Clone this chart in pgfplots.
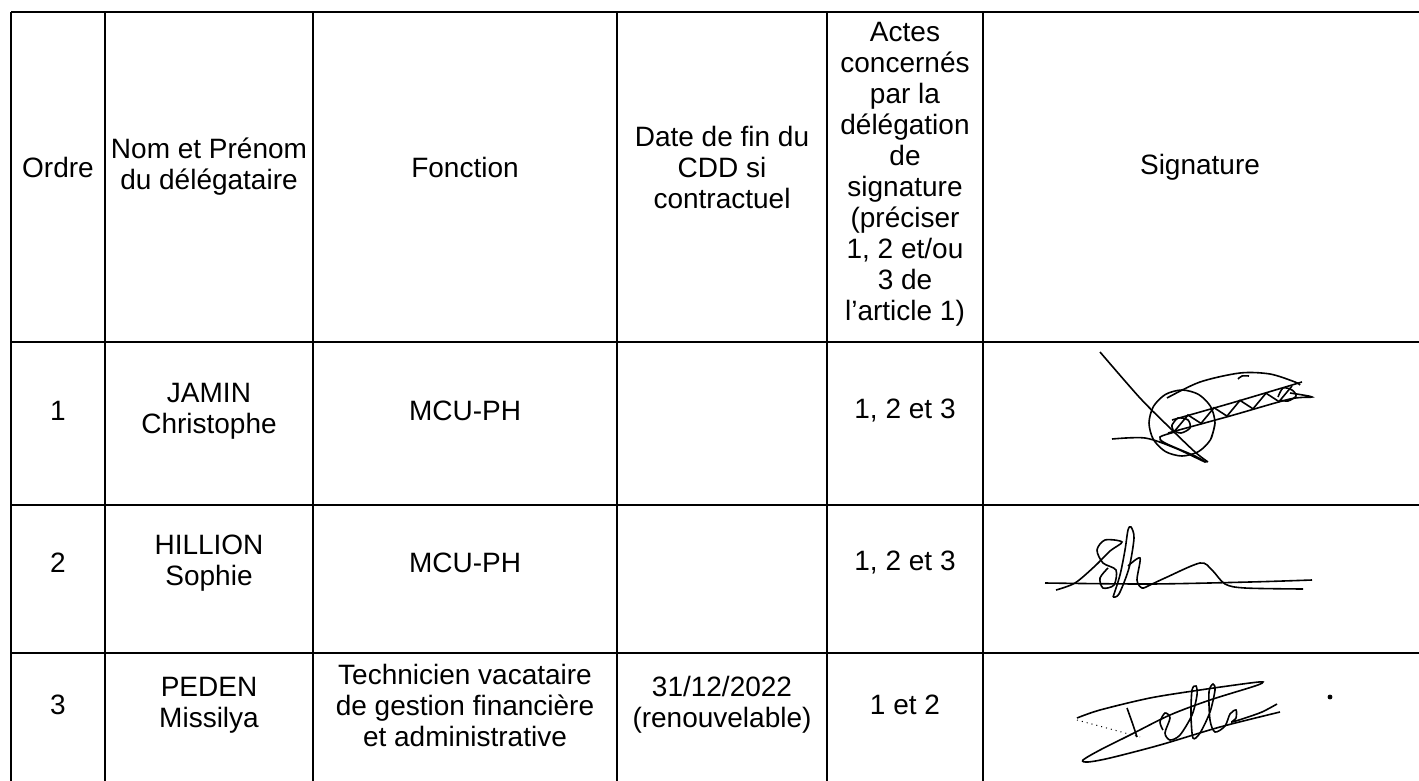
\documentclass[border=0pt]{standalone}
\usepackage{fontspec}
\setmainfont{Liberation Sans}
\usepackage{pgfplots}
\pgfplotsset{compat=1.18}

\begin{document}
\begin{tikzpicture}[cell/.style={font=\fontsize{14}{15.5}\selectfont, align=center, inner sep=0pt}]
\begin{axis}[
    scale only axis,
    width=709.5pt, height=390.5pt,
    xmin=0, xmax=1419, ymin=0, ymax=781,
    y dir=reverse,
    axis lines=none,
    clip=true,
    rule/.style={black, line width=1pt, forget plot},
    sig/.style={black, line width=0.8pt, smooth, tension=0.5, forget plot},
]

% table rules
\addplot[rule] coordinates {(11,12) (1419,12)};
\addplot[rule] coordinates {(11,342) (1419,342)};
\addplot[rule] coordinates {(11,505) (1419,505)};
\addplot[rule] coordinates {(11,653) (1419,653)};
\addplot[rule] coordinates {(11,12) (11,781)};
\addplot[rule] coordinates {(105,12) (105,781)};
\addplot[rule] coordinates {(313,12) (313,781)};
\addplot[rule] coordinates {(617,12) (617,781)};
\addplot[rule] coordinates {(827,12) (827,781)};
\addplot[rule] coordinates {(983,12) (983,781)};

% header
\node[cell] at (58,167) {Ordre};
\node[cell] at (209,167) {Nom et Prénom\\du délégataire};
\node[cell] at (465,167) {Fonction};
\node[cell] at (722,167) {Date de fin du\\CDD si\\contractuel};
\node[cell] at (905,174) {Actes\\concernés\\par la\\délégation\\de\\signature\\(préciser\\1, 2 et/ou\\3 de\\l’article 1)};
\node[cell] at (1200,167) {Signature};

% row 1
\node[cell] at (58,411) {1};
\node[cell] at (209,411) {JAMIN\\Christophe};
\node[cell] at (465,411) {MCU-PH};
\node[cell] at (905,411) {1, 2 et 3};

% row 2
\node[cell] at (58,563) {2};
\node[cell] at (209,563) {HILLION\\Sophie};
\node[cell] at (465,563) {MCU-PH};
\node[cell] at (905,563) {1, 2 et 3};

% row 3
\node[cell] at (58,705) {3};
\node[cell] at (209,705) {PEDEN\\Missilya};
\node[cell] at (465,705) {Technicien vacataire\\de gestion financière\\et administrative};
\node[cell] at (722,705) {31/12/2022\\(renouvelable)};
\node[cell] at (905,705) {1 et 2};

% signature 1
\addplot[sig] coordinates {(1100,352) (1140,398) (1170,428) (1195,452) (1208,462)};
\addplot[sig] coordinates {(1112,439) (1145,438) (1175,448) (1205,462) (1195,456) (1165,443) (1160,437) (1175,432)};
\addplot[sig] coordinates {(1215,423) (1210.6,439.5) (1198.5,451.6) (1182,456) (1165.5,451.6) (1153.4,439.5) (1149,423) (1153.4,406.5) (1165.5,394.4) (1182,390) (1198.5,394.4) (1210.6,406.5) (1215,423) (1210.6,439.5)};
\addplot[sig] coordinates {(1167,398) (1200,382) (1240,373) (1270,374) (1295,382) (1300,385)};
\addplot[sig] coordinates {(1238,379) (1242,376) (1249,376)};
\addplot[sig] coordinates {(1168,433) (1230,416) (1290,399) (1312,397) (1290,393)};
\addplot[sig] coordinates {(1172,420) (1235,402) (1302,382)};
\addplot[black, line width=0.8pt, forget plot] coordinates {(1175,430.6) (1188,415) (1201,423.4) (1214,407.7) (1227,416.1) (1240,400.4) (1253,408.8) (1266,393.2) (1279,401.6) (1292,386)};
\addplot[sig] coordinates {(1172,425) (1178,418) (1188,420) (1190,428) (1181,433) (1173,430) (1172,425)};
\addplot[sig] coordinates {(1278,397) (1283,388) (1292,390) (1296,396) (1288,401) (1280,400)};

% signature 2
\addplot[sig] coordinates {(1045,583) (1150,584) (1250,582) (1312,580)};
\addplot[sig] coordinates {(1056,590) (1075,583) (1095,566) (1110,551) (1122,542) (1105,540) (1097,550) (1103,563) (1116,570) (1114,585) (1103,588) (1100,578) (1108,568)};
\addplot[sig] coordinates {(1113,597) (1120,575) (1125,550) (1128,530) (1131,527) (1134,538) (1129,568) (1119,594) (1113,597)};
\addplot[sig] coordinates {(1128,566) (1140,558) (1137,580) (1142,588) (1150,585) (1165,578) (1200,563) (1212,570) (1225,584) (1245,588) (1303,589)};

% signature 3
\addplot[black, line width=0.5pt, dotted, forget plot] coordinates {(1077,720) (1140,737)};
\addplot[sig] coordinates {(1077,718) (1100,710) (1150,698) (1200,690) (1250,683) (1263,682) (1255,686) (1210,700) (1170,715) (1130,735) (1100,750) (1083,760) (1088,762) (1110,758) (1160,745) (1220,727) (1280,712)};
\addplot[sig] coordinates {(1127,708) (1132,722) (1137,737)};
\addplot[sig] coordinates {(1163,730) (1160,722) (1165,713) (1170,718) (1165,733) (1170,740) (1180,735) (1192,715) (1197,695) (1196,686) (1192,690) (1191,715) (1193,738) (1200,733) (1210,712) (1215,690) (1213,684) (1209,692) (1210,720) (1215,732) (1225,726) (1230,714) (1236,710) (1236,718) (1232,722) (1245,718) (1262,712) (1277,704)};
\addplot[black, only marks, mark=*, mark size=1pt, forget plot] coordinates {(1330,697)};

\end{axis}
\pgfresetboundingbox
\path (current axis.south west) rectangle (current axis.north east);
\end{tikzpicture}
\end{document}
